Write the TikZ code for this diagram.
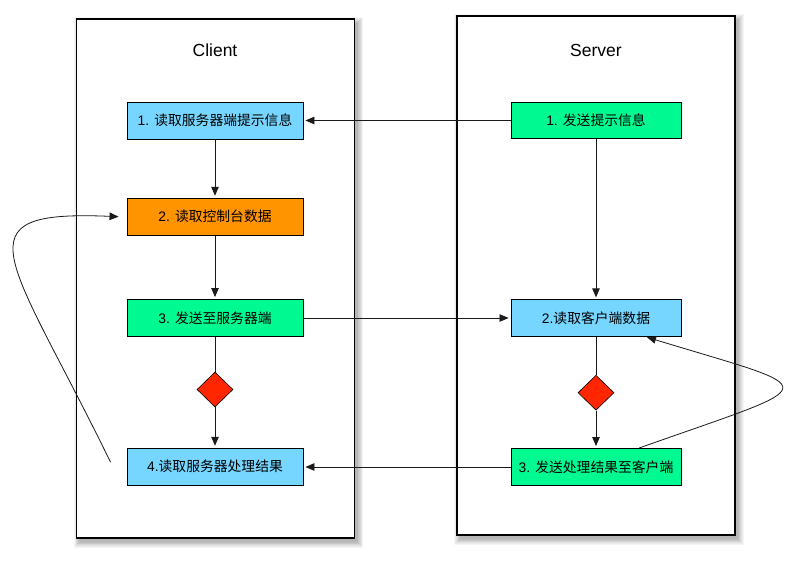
\documentclass[tikz,border=0pt]{standalone}
\usepackage{fontspec}
\setmainfont{Liberation Sans}
\newfontfamily\cjk{Noto Sans CJK SC}
\usetikzlibrary{arrows.meta,shapes.geometric}

\definecolor{sky}{HTML}{76D6FF}
\definecolor{tangerine}{HTML}{FF9300}
\definecolor{seafoam}{HTML}{00FA92}
\definecolor{maraschino}{HTML}{FF2600}
\definecolor{linegray}{HTML}{1A1A1A}

\tikzset{
  panel/.style={draw=black, line width=1.1pt, fill=white, inner sep=0pt},
  paneltitle/.style={font=\fontsize{17.5}{20}\selectfont, text=black, inner sep=0pt},
  stepbox/.style={draw=black, line width=0.9pt, inner sep=0pt,
    minimum height=37pt, font=\fontsize{13.8}{16}\selectfont, text=black},
  clientbox/.style={stepbox, minimum width=176pt},
  serverbox/.style={stepbox, minimum width=170pt},
  decision/.style={diamond, draw=black, line width=0.6pt, fill=maraschino,
    inner sep=0pt, minimum width=36pt, minimum height=35pt},
  flow/.style={draw=linegray, line width=0.8pt,
    -{Triangle[length=9pt,width=7.5pt]}, shorten >=2pt},
  plain/.style={draw=linegray, line width=0.8pt},
}

% soft drop shadow under a panel: corners (x1,y1) (x2,y2)
\newcommand\panelshadow[4]{%
  \foreach \i in {0,...,7}{%
    \fill[black, opacity=0.04]
      (#1+3-\i*0.8, #2+4-\i*0.8) rectangle (#3+3+\i*0.8, #4+4+\i*0.8);
  }%
}

\begin{document}
\begin{tikzpicture}[x=1pt, y=-1pt]
  \useasboundingbox (0,0) rectangle (793,563);
  \fill[white] (0,0) rectangle (793,563);

  % panels with shadows
  \panelshadow{76.5}{19}{354.5}{538}
  \panelshadow{457}{16}{735}{535}
  \node[panel, minimum width=278pt, minimum height=519pt] (client) at (215.5,278.5) {};
  \node[panel, minimum width=278pt, minimum height=519pt] (server) at (596,275.5) {};

  \node[paneltitle] (clienttitle) at (215,50) {Client};
  \node[paneltitle] (servertitle) at (596,50) {Server};

  % client steps
  \node[clientbox, fill=sky]       (c1) at (215,120.5) {1. {\cjk 读取服务器端提示信息}};
  \node[clientbox, fill=tangerine] (c2) at (215,216.7) {2. {\cjk 读取控制台数据}};
  \node[clientbox, fill=seafoam]   (c3) at (215,318) {3. {\cjk 发送至服务器端}};
  \node[decision]                  (cd) at (215,389.5) {};
  \node[clientbox, fill=sky]       (c4) at (215,466.7) {4.{\cjk 读取服务器处理结果}};

  % server steps
  \node[serverbox, fill=seafoam, minimum height=36pt] (s1) at (596,120.5) {1. {\cjk 发送提示信息}};
  \node[serverbox, fill=sky]     (s2) at (596,318.3) {2.{\cjk 读取客户端数据}};
  \node[decision]                (sd) at (596,392.7) {};
  \node[serverbox, fill=seafoam] (s3) at (596,467) {3. {\cjk 发送处理结果至客户端}};

  % client flow
  \draw[flow] (c1) -- (c2);
  \draw[flow] (c2) -- (c3);
  \draw[plain] (c3) -- (cd);
  \draw[flow] (cd) -- (c4);

  % server flow
  \draw[flow] (s1) -- (s2);
  \draw[plain] (s2) -- (sd);
  \draw[flow] (sd) -- (s3);

  % messages between the two sides
  \draw[flow] (s1.west) -- (s1.west -| c1.east);
  \draw[flow] (c3.east) -- (c3.east -| s2.west);
  \draw[flow] (s3.west) -- (s3.west -| c4.east);

  % loops back
  \draw[flow, shorten >=0pt] ([xshift=-16pt,yshift=4.5pt]c4.west)
    .. controls +(-101,-207) and +(-164,-7) .. ([xshift=-8pt]c2.west);
  \draw[flow, shorten >=0pt] ([xshift=43pt]s3.north)
    .. controls +(189,-67) and +(181,55) .. ([xshift=51pt]s2.south);
\end{tikzpicture}
\end{document}
